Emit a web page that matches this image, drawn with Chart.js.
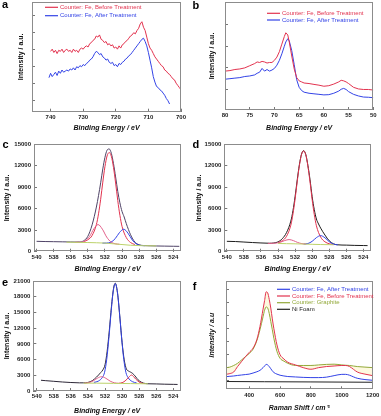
<!DOCTYPE html>
<html>
<head>
<meta charset="utf-8">
<script src="https://cdn.jsdelivr.net/npm/chart.js@4.4.0/dist/chart.umd.min.js"></script>
<style>
html, body { margin: 0; padding: 0; background: #fff; }
#wrap { position: relative; width: 381px; height: 416px; overflow: hidden; }
canvas { position: absolute; }
</style>
</head>
<body>
<div id="wrap">
  <canvas id="pa" width="190" height="135" style="left:0;top:0"></canvas>
  <canvas id="pb" width="191" height="135" style="left:190px;top:0"></canvas>
  <canvas id="pc" width="190" height="140" style="left:0;top:135px"></canvas>
  <canvas id="pd" width="191" height="140" style="left:190px;top:135px"></canvas>
  <canvas id="pe" width="190" height="141" style="left:0;top:275px"></canvas>
  <canvas id="pf" width="191" height="141" style="left:190px;top:275px"></canvas>
</div>
<script>
// panel a - Fe 2p (arbitrary intensity 0..100)
var aRedE = [740,739.5,739,738.5,738,737.5,737,736.5,736,735.5,735,734.5,734,733.5,733,732.5,732,731.5,731,730.5,730,729.5,729,728.5,728,727.5,727,726.5,726,725.5,725,724.5,724,723.5,723,722.5,722,721.5,721,720.5,720,719.5,719,718.5,718,717.5,717,716.5,716,715.5,715,714.5,714,713.5,713,712.5,712,711.5,711,710.5,710,709.5,709,708.5,708,707.5,707,706.5,706,705.5,705,704.5,704,703.5,703,702.5,702,701.5,701,700.5,700];
var aRedI = [55,57,54,56,53,56,55,57,54,56, 57,55,56,54,57,55,56,54,57,58, 57,59,60,59,62,63,65,66,69,68, 70,66,65,63,64,61,62,60,61,58, 59,57,60,58,61,62,64,65,67,69, 70,72,71,74,76,80,82,77,74,68, 62,58,56,53,50,48,46,44,42,41, 38,37,35,34,32,30,29,26,24,22,20];
var aBlueE = [740.5,740,739.5,739,738.5,738,737.5,737,736.5,736,735.5,735,734.5,734,733.5,733,732.5,732,731.5,731,730.5,730,729.5,729,728.5,728,727.5,727,726.5,726,725.5,725,724.5,724,723.5,723,722.5,722,721.5,721,720.5,720,719.5,719,718.5,718,717.5,717,716.5,716,715.5,715,714.5,714,713.5,713,712.5,712,711.5,711,710.5,710,709.5,709,708.5,708,707.5,707,706.5,706,705.5,705,704.5,704,703.5];
var aBlueI = [31,35,32,34,36,33,37,35,38,36, 37,38,37,39,38,40,38,41,40,42, 41,43,42,44,45,47,48,50,53,55, 54,52,53,50,49,47,48,45,44,45, 42,43,41,44,43,45,46,48,49,51, 52,54,56,58,60,62,64,66,67,64, 60,54,47,40,32,27,23,22,20,19, 17,15,12,10,7];
var aTicks = [740, 730, 720, 710, 700];
var aYTicks = [10, 25.5, 41, 56.5, 72, 87.5];

// panel b - Fe 3p
var bE = [80,79,78,77,76,75,74,73.5,73,72.5,72,71.5,71,70.5,70,69.5,69,68.5,68,67.7,67.3,67,66.5,66,65.5,65,64.5,64,63,62,61,60,59,58,57,56.5,56,55.5,55,54,53,52,51,50];
var bRed = [36,36.5,37.5,38,39,41,43,44.5,44,45,44.5,43.5,44,44,46,49,54,61,68,71.5,69.5,63,50,38,30,27,26,25,24.5,23.7,23,22,22.5,24,26,27.5,27,26,24.5,21,19.5,19,19,18.5];
var bBlue = [28.5,29,29.5,30,31,31.5,32.5,34,35,38.5,36,37.5,36,37,38.5,41.5,46,52,59,63,66,64,55,42,28,21,18,16.5,15.5,15,14.5,14,14.2,15.5,17.5,19.2,20,19,17,14.5,13,12,11.8,11.4];
var bTicks = [80, 75, 70, 65, 60, 55, 50];
var bYTicks = [19, 39, 59, 79];

// O 1s panels c, d, e
var xpsTicks = [540, 538, 536, 534, 532, 530, 528, 526, 524];
var cdYTicks = [0, 3000, 6000, 9000, 12000, 15000];
var eYTicks = [0, 3000, 6000, 9000, 12000, 15000, 18000, 21000];

var cEnvE = [540,539,538,537,536,535.5,535,534.5,534,533.5,533,532.75,532.5,532.25,532,531.75,531.5,531.25,531,530.75,530.5,530.25,530,529.75,529.5,529,528.5,528,527.5,527,526,525,524,523.3];
var cEnvI = [1450,1420,1400,1380,1360,1350,1360,1520,2150,3750,6240,7840,9620,11560,13170,14180,14350,13740,12320,10440,8430,6830,5620,4850,3920,2370,1350,970,860,830,800,780,760,750];
var cMainE = [534.5,534,533.5,533,532.75,532.5,532.25,532,531.75,531.5,531.25,531,530.75,530.5,530.25,530,529.5,529,528.5];
var cMainI = [1410,1660,2270,3790,5290,7320,9720,11870,13370,13850,13320,11770,9590,7150,5090,3540,1970,1280,1000];
var cHighE = [535.5,534.8,534.3,533.8,533.3,532.8,532.3,531.8,531.3,530.8,530.3];
var cHighI = [1310,1320,1510,2130,3190,3790,3150,2050,1360,1110,1040];
var cLowE = [532.3,531.8,531.3,530.8,530.3,529.8,529.3,528.8,528.3,527.8,527.3];
var cLowI = [1200,1210,1330,1820,2670,3140,2580,1630,1060,870,840];
var cBaseE = [536.5,535,534,533,532,531,530,529,528,527,526];
var cBaseI = [1330,1300,1280,1250,1200,1100,1000,900,850,830,810];

var dEnvE = [540,539,538,537,536,535,534.5,534,533.5,533,532.5,532.25,532,531.75,531.5,531.25,531,530.75,530.5,530.25,530,529.75,529.5,529.25,529,528.5,528,527.5,527,526,525,524,523.5];
var dEnvI = [1450,1420,1350,1280,1220,1180,1220,1370,1815,2680,4270,5725,7690,10020,12125,13615,14115,13580,12060,10060,7690,5870,4565,3870,3290,2330,1530,1100,960,920,880,860,850];
var dMainE = [534,533.5,533,532.5,532.25,532,531.75,531.5,531.25,531,530.75,530.5,530.25,530,529.75,529.5,529,528.5,528,527.5];
var dMainI = [1280,1525,2160,3710,5265,7340,9800,12005,13555,14070,13540,11970,9750,7270,5180,3615,2040,1380,1110,990];
var dHighE = [535.2,534.7,534.2,533.7,533.2,532.7,532.2,531.7,531.2,530.7];
var dHighI = [1160,1170,1200,1330,1560,1695,1545,1290,1125,1070];
var dLowE = [531,530.5,530,529.5,529,528.5,528,527.5,527];
var dLowI = [1070,1140,1450,1965,2250,1940,1400,1060,960];
var dBaseE = [534,533,532,531,530,529,528,527.5];
var dBaseI = [1150,1120,1100,1070,1030,1000,980,970];

var eEnvE = [539.5,539,538,537,536,535,534.5,534,533.5,533,532.5,532.25,532,531.75,531.5,531.25,531,530.8,530.5,530.25,530,529.75,529.5,529.25,529,528.75,528.5,528.25,528,527.5,527,526,525,524,523.5];
var eEnvI = [2050,1980,1850,1720,1620,1560,1560,1640,1960,2645,3530,4035,5010,7590,11510,16050,19600,20580,18255,13900,9280,5935,4230,3815,3595,3330,2895,2370,1945,1510,1380,1350,1300,1270,1250];
var eMainE = [533.3,532.8,532.3,532.05,531.8,531.55,531.3,531.05,530.8,530.55,530.3,530.05,529.8,529.55,529.3,528.8,528.3];
var eMainI = [1650,1870,2620,3575,6040,10035,14800,18885,20500,18875,14780,10005,6000,3525,2560,1790,1550];
var eHighE = [534.4,533.9,533.4,532.9,532.4,531.9,531.4,530.9,530.4];
var eHighI = [1520,1610,1915,2440,2735,2425,1885,1565,1465];
var eLowE = [530.4,529.9,529.4,529.15,528.9,528.65,528.4,527.9,527.4];
var eLowI = [1475,1645,2295,2750,3050,2735,2270,1600,1410];
var eBaseE = [534.5,533,532,531,530,529,528,527];
var eBaseI = [1500,1495,1480,1455,1435,1415,1395,1380];

// panel f - Raman
var fShift = [250,275,300,325,350,375,400,425,450,470,490,500,510,520,530,540,550,560,580,600,625,650,700,750,800,850,900,950,1000,1025,1050,1075,1100,1150,1200];
var fAfter = [11.7,12,12.3,12.8,13.2,13.6,14,15,16.2,17.5,20,21.5,23,22.5,21,19,17,15.5,14,13,12.3,11.8,11.4,11,10.8,10.8,11.2,12.6,13.8,13.8,13,11.5,10.2,9,8.3];
var fBefore = [13.8,14.5,16,21,25.5,30,34,38,46,58,74,82,90,89,83,75,65,56,41,32,28,25,22.5,20,18.5,20,21,21.5,22,22,21,18.5,16,14,12.6];
var fGraphite = [20,20.5,22,24,27,30,33,37,45,55,67,73,76,75,70,62.5,55,47,35,28.6,26,24,22,22,22,22.5,23,23.2,22.5,22.2,22,21.5,21,20.5,20];
var fNiShift = [250, 500, 800, 1200];
var fNi = [7.2, 7, 6.8, 6.5];
var fTicks = [400, 600, 800, 1000, 1200];
var fYTicks = [8, 20, 32, 44, 56, 68, 80, 92];

var FONT = 'Arial, "Liberation Sans", sans-serif';
Chart.defaults.font.family = FONT;
Chart.defaults.animation = false;

var RED = '#e2334f', BLUE = '#3343e6', PINK = '#e2608a', GREEN = '#bcd26a';

function pts(xs, ys) {
  return xs.map(function (x, i) { return { x: x, y: ys[i] }; });
}

function line(xs, ys, color, smooth) {
  return {
    data: pts(xs, ys), borderColor: color, borderWidth: 1, pointRadius: 0, fill: false,
    cubicInterpolationMode: smooth ? 'monotone' : 'default', tension: 0
  };
}

// frame, panel letter and in-plot legend
var decor = {
  id: 'decor',
  afterDraw: function (chart, args, opts) {
    var ctx = chart.ctx, a = chart.chartArea;
    ctx.save();
    ctx.strokeStyle = '#8c8c8c';
    ctx.lineWidth = 1;
    ctx.strokeRect(Math.round(a.left) + 0.5, Math.round(a.top) + 0.5, Math.round(a.right - a.left) - 1, Math.round(a.bottom - a.top) - 1);
    ctx.fillStyle = '#000';
    ctx.font = 'bold 11px ' + FONT;
    ctx.textBaseline = 'alphabetic';
    ctx.fillText(opts.letter, opts.lx, opts.ly);
    ctx.font = '6px ' + FONT;
    ctx.textBaseline = 'middle';
    (opts.keys || []).forEach(function (k) {
      ctx.strokeStyle = k.color;
      ctx.lineWidth = 1.2;
      ctx.beginPath();
      ctx.moveTo(k.x1, k.y);
      ctx.lineTo(k.x2, k.y);
      ctx.stroke();
      ctx.fillStyle = k.color;
      ctx.fillText(k.text, k.x2 + 2, k.y);
    });
    ctx.restore();
  }
};

function xAxis(o) {
  return {
    type: 'linear', reverse: o.reverse, min: o.min, max: o.max,
    afterBuildTicks: function (s) { s.ticks = o.ticks.map(function (v) { return { value: v }; }); },
    afterFit: function (s) { s.height = o.h; s.paddingLeft = 0; s.paddingRight = 0; },
    border: { display: false },
    grid: { drawOnChartArea: false, tickLength: -3, color: '#777' },
    ticks: { padding: 5, color: '#222', autoSkip: false, maxRotation: 0, font: { size: 6, weight: 'bold' },
      callback: function (v) { return String(v); } },
    title: { display: true, text: o.title, color: '#111', font: { size: 7, weight: 'bold', style: 'italic' },
      padding: { top: 0, bottom: o.tb } }
  };
}

function yAxis(o) {
  return {
    type: 'linear', min: o.min, max: o.max,
    afterBuildTicks: function (s) { s.ticks = o.ticks.map(function (v) { return { value: v }; }); },
    afterFit: function (s) { s.width = o.w; s.paddingTop = 0; s.paddingBottom = 0; },
    border: { display: false },
    grid: { drawOnChartArea: false, tickLength: -3, color: '#777' },
    ticks: { display: o.labels, padding: 6, color: '#222', autoSkip: false, font: { size: 6, weight: 'bold' },
      callback: function (v) { return String(v); } },
    title: { display: true, text: o.title, color: '#111',
      font: { size: 7, weight: 'bold', style: o.italic ? 'italic' : 'normal' },
      padding: { top: o.tp, bottom: 0 } }
  };
}

function panel(id, datasets, x, y, pad, dec) {
  return new Chart(document.getElementById(id), {
    type: 'line',
    data: { datasets: datasets },
    options: {
      responsive: false,
      devicePixelRatio: 1,
      events: [],
      layout: { padding: pad },
      scales: { x: x, y: y },
      plugins: { legend: { display: false }, tooltip: { enabled: false }, decor: dec }
    },
    plugins: [decor]
  });
}

var BE = 'Binding Energy / eV';

panel('pa',
  [line(aRedE, aRedI, RED, false), line(aBlueE, aBlueI, BLUE, false)],
  xAxis({ reverse: true, min: 700, max: 745.7, ticks: aTicks, h: 23.3, tb: 3.1, title: BE }),
  yAxis({ min: 0, max: 100, ticks: aYTicks, w: 32, labels: false, tp: 16.5, title: 'Intensity / a.u.' }),
  { left: 0, top: 2, right: 9, bottom: 0 },
  { letter: 'a', lx: 2, ly: 8, keys: [
    { text: 'Counter: Fe, Before Treatment', color: RED, x1: 45, x2: 58, y: 7.3 },
    { text: 'Counter: Fe, After Treatment', color: BLUE, x1: 45, x2: 58, y: 15.7 } ] });

panel('pb',
  [line(bE, bRed, RED, false), line(bE, bBlue, BLUE, false)],
  xAxis({ reverse: true, min: 50, max: 80, ticks: bTicks, h: 25, tb: 3.1, title: BE }),
  yAxis({ min: 0, max: 100, ticks: bYTicks, w: 35, labels: false, tp: 17.5, title: 'Intensity / a.u.' }),
  { left: 0, top: 2, right: 7.7, bottom: 0 },
  { letter: 'b', lx: 2.5, ly: 9, keys: [
    { text: 'Counter: Fe, Before Treatment', color: RED, x1: 77, x2: 90, y: 13.3 },
    { text: 'Counter: Fe, After Treatment', color: BLUE, x1: 77, x2: 90, y: 20 } ] });

panel('pc',
  [line(cBaseE, cBaseI, GREEN, true), line(cHighE, cHighI, PINK, true), line(cLowE, cLowI, BLUE, true),
   line(cMainE, cMainI, RED, true), line(cEnvE, cEnvI, '#4e4266', true)],
  xAxis({ reverse: true, min: 523.1, max: 540.3, ticks: xpsTicks, h: 23.3, tb: 1.8, title: BE }),
  yAxis({ min: 0, max: 15000, ticks: cdYTicks, w: 34, labels: true, tp: 2.8, title: 'Intensity / a.u.' }),
  { left: 0, top: 9.3, right: 9, bottom: 0 },
  { letter: 'c', lx: 2.5, ly: 12.7 });

panel('pd',
  [line(dBaseE, dBaseI, GREEN, true), line(dHighE, dHighI, PINK, true), line(dLowE, dLowI, BLUE, true),
   line(dMainE, dMainI, RED, true), line(dEnvE, dEnvI, '#1c1c1c', true)],
  xAxis({ reverse: true, min: 523.1, max: 540.3, ticks: xpsTicks, h: 23.3, tb: 1.8, title: BE }),
  yAxis({ min: 0, max: 15000, ticks: cdYTicks, w: 34.3, labels: true, tp: 4.8, title: 'Intensity / a.u.' }),
  { left: 0, top: 9.3, right: 10, bottom: 0 },
  { letter: 'd', lx: 2.5, ly: 12.7 });

panel('pe',
  [line(eBaseE, eBaseI, GREEN, true), line(eHighE, eHighI, PINK, true), line(eLowE, eLowI, RED, true),
   line(eMainE, eMainI, BLUE, true), line(eEnvE, eEnvI, '#2c2636', true)],
  xAxis({ reverse: true, min: 523.1, max: 540.4, ticks: xpsTicks, h: 25, tb: 0.8, title: BE }),
  yAxis({ min: 0, max: 21000, ticks: eYTicks, w: 33.3, labels: true, tp: 3.1, title: 'Intensity / a.u.' }),
  { left: 0, top: 6, right: 9, bottom: 0 },
  { letter: 'e', lx: 2, ly: 11 });

var fGreenLine = line(fShift, fGraphite, '#93a93a', true);
fGreenLine.fill = { target: 1 };
fGreenLine.backgroundColor = 'rgba(250, 236, 150, 0.3)';

panel('pf',
  [line(fShift, fAfter, BLUE, true), line(fShift, fBefore, RED, true), fGreenLine, line(fNiShift, fNi, '#222', false)],
  xAxis({ reverse: false, min: 250, max: 1200, ticks: fTicks, h: 26.7, tb: 3.5, title: 'Raman Shift / cm\u207B\u00B9' }),
  yAxis({ min: 0, max: 100, ticks: fYTicks, w: 36, labels: false, tp: 17.5, italic: true, title: 'Intensity / a.u' }),
  { left: 0, top: 6, right: 8.3, bottom: 0 },
  { letter: 'f', lx: 2.7, ly: 15, keys: [
    { text: 'Counter: Fe, After Treatment', color: BLUE, x1: 87, x2: 100, y: 14.3 },
    { text: 'Counter: Fe, Before Treatment', color: RED, x1: 87, x2: 100, y: 21 },
    { text: 'Counter: Graphite', color: '#93a93a', x1: 87, x2: 100, y: 27.7 },
    { text: 'Ni Foam', color: '#222', x1: 87, x2: 100, y: 34.3 } ] });
</script>
</body>
</html>
